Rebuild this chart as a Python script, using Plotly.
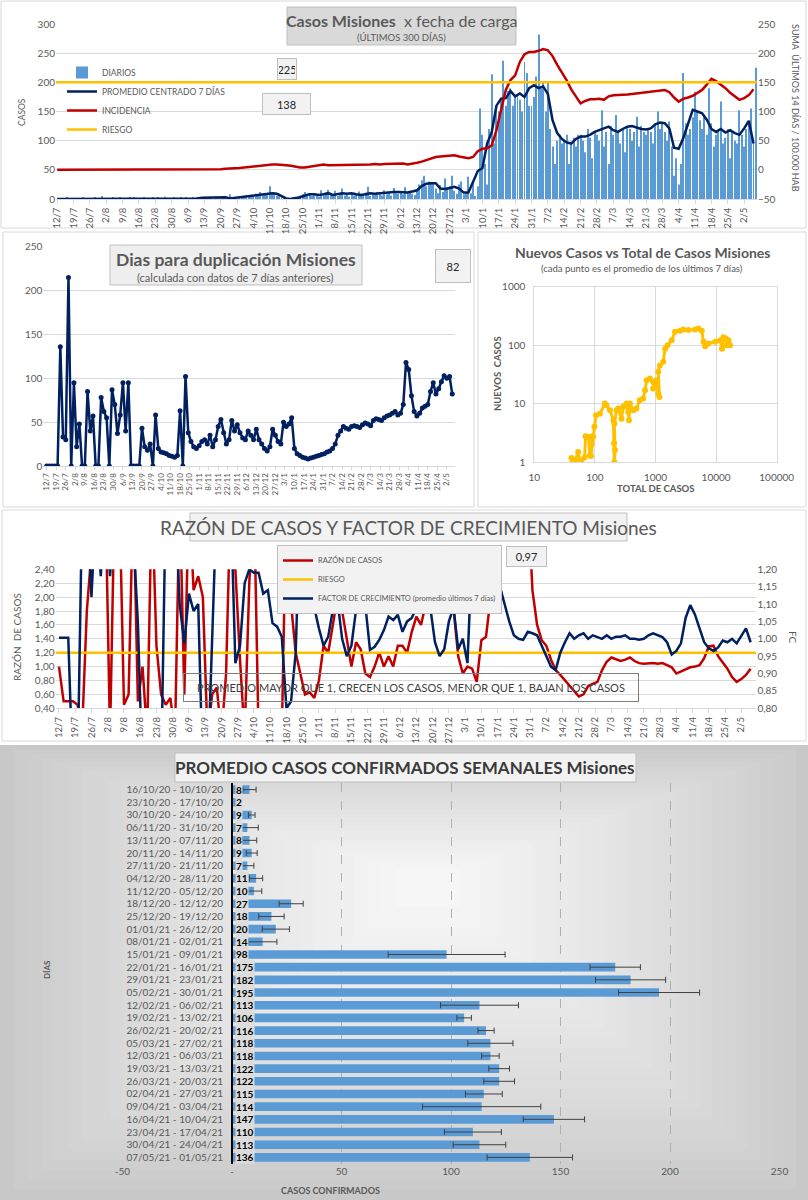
import pandas as pd
import plotly.graph_objects as go

W, H = 808, 1200
def X(px): return px / W
def Y(py): return 1 - py / H

FONT = "Lato"
GRAY = "#595959"
NAVY = "#002060"
RED = "#c00000"
ORANGE = "#ffc000"
BLUE = "#5b9bd5"
GRID = "#d9d9d9"

# ---------------- DATA ----------------
start_date = "2020-07-12"
n_days = 300

daily_cases = [
    0, 1, 0, 0, 2, 0, 1,
    0, 0, 1, 0, 3, 1, 0,
    1, 0, 2, 1, 0, 5, 1,
    0, 1, 0, 2, 1, 0, 3,
    1, 0, 0, 4, 1, 2, 0,
    1, 0, 2, 1, 0, 1, 3,
    0, 2, 1, 0, 4, 1, 0,
    1, 2, 0, 1, 3, 0, 2,
    0, 1, 3, 0, 2, 1, 0,
    1, 0, 2, 1, 0, 2, 1,
    2, 4, 1, 3, 8, 2, 3,
    0, 2, 5, 3, 6, 2, 4,
    6, 9, 5, 12, 8, 7, 10,
    22, 8, 11, 6, 9, 5, 3,
    0, 1, 0, 2, 4, 1, 6,
    8, 12, 6, 10, 5, 9, 7,
    4, 15, 6, 9, 16, 7, 8,
    14, 5, 9, 18, 6, 7, 4,
    10, 6, 8, 13, 9, 7, 11,
    21, 5, 9, 7, 12, 8, 6,
    15, 8, 11, 6, 19, 10, 9,
    12, 8, 20, 11, 14, 9, 7,
    15, 25, 32, 40, 22, 30, 28,
    27, 18, 10, 24, 12, 35, 20,
    22, 40, 14, 9, 25, 30, 8,
    12, 38, 10, 28, 5, 22, 155,
    110, 60, 25, 120, 214, 95, 150,
    150, 170, 237, 160, 185, 190, 160,
    175, 180, 170, 150, 235, 216, 160,
    160, 175, 210, 282, 190, 200, 150,
    202, 120, 90, 60, 100, 110, 95,
    100, 110, 60, 95, 105, 90, 110,
    110, 100, 80, 120, 105, 70, 115,
    110, 100, 152, 90, 115, 60, 125,
    110, 144, 115, 95, 120, 80, 125,
    120, 100, 115, 141, 90, 125, 115,
    110, 120, 115, 95, 130, 150, 120,
    130, 115, 100, 133, 90, 40, 70,
    25, 60, 216, 130, 110, 120, 140,
    184, 150, 135, 120, 140, 110, 190,
    130, 90, 110, 115, 167, 95, 105,
    120, 70, 115, 100, 95, 152, 110,
    90, 120, 130, 155, 100, 225,
]

# values every 2 days from 12/7
avg7 = [
    0, 0, 0, 0, 0, 0, 0, 0, 0, 0, 0,
    1, 1, 1, 1, 1, 1, 1, 1, 1, 1, 1, 1, 1, 1, 1, 1, 1, 1, 1, 1, 2, 2, 2, 2,
    3, 3, 1, 2, 3, 4, 5, 7, 8, 9, 9, 10, 9, 5, 1,
    0, 1, 3, 6, 8, 8, 7, 8, 10, 7, 8, 10, 9, 10, 8, 7, 8, 10, 9, 10, 10, 11, 12, 12, 11,
    11, 13, 15, 22, 26, 27, 27, 18, 17, 19, 21, 18, 11, 11, 30, 48, 53, 95, 115, 160, 172, 173, 185, 176, 181,
    175, 190, 195, 190, 193, 180, 135, 113, 103, 97, 95, 103, 107, 107, 110, 115, 118, 121, 124, 118, 115, 120, 124, 125, 122,
    120, 119, 121, 128, 131, 130, 121, 88, 86, 105, 130, 153, 150, 147, 136, 120, 115, 120, 114, 118, 113, 110, 121, 134, 95,
]

incidence = [
    0, 0, 0, 0, 0, 0, 0, 0, 0, 0, 1, 1, 0, 0, 0, 0, 0, 0, 0, 0, 0, 0, 0, 0, 0, 0, 0, 0, 0, 0, 0, 0, 0, 0,
    1, 1, 2, 2, 3, 3, 4, 5, 6, 7, 8, 8, 9, 9, 9, 8,
    7, 5, 4, 4, 5, 6, 8, 9, 8, 8, 9, 9, 8, 9, 9, 8, 9, 9, 10, 9, 10, 10, 10, 11, 11,
    9, 10, 12, 14, 17, 20, 22, 23, 24, 25, 25, 23, 21, 20, 22, 32, 36, 37, 42, 68, 103, 137, 154, 162, 185,
    198, 202, 202, 204, 207, 205, 195, 180, 168, 154, 138, 125, 114, 118, 121, 121, 122, 120, 126, 128, 128, 128, 129, 130, 131,
    131, 132, 133, 134, 136, 137, 133, 124, 117, 122, 124, 127, 132, 137, 146, 156, 152, 146, 140, 132, 126, 120, 123, 128, 138,
]
riesgo_incidencia = 150

doubling_days = [
    0, 0, 0, 0, 0, 136, 33, 30, 215, 0, 95, 22, 48, 0, 0, 85, 40, 57, 0, 0, 78, 62, 55, 0, 87,
    70, 37, 58, 95, 40, 95, 0, 0, 0, 0, 43, 22, 18, 25, 0, 58, 20, 16, 15, 14, 12, 11, 10, 12, 63,
    0, 102, 38, 28, 22, 20, 23, 28, 30, 25, 35, 22, 30, 45, 53, 38, 25, 30, 52, 40, 47, 38, 32, 30, 40,
    35, 30, 42, 30, 25, 20, 17, 22, 42, 35, 28, 25, 50, 45, 48, 55, 20, 14, 12, 10, 9, 8, 9, 10, 11,
    12, 13, 14, 16, 17, 20, 25, 35, 40, 45, 43, 42, 45, 46, 45, 44, 47, 49, 48, 46, 52, 54, 53, 52, 55,
    57, 58, 60, 62, 58, 60, 70, 118, 110, 80, 62, 57, 60, 66, 68, 70, 85, 95, 82, 88, 96, 103, 100, 102, 82,
]

total_cases = [41, 43, 47, 53, 57, 60, 68, 70, 78, 83, 88, 90, 86, 94, 98, 104, 121, 146, 154, 177,
               202, 207, 209, 215, 209, 228, 243, 275, 294, 333, 354, 365, 379, 430, 485, 550, 626, 672, 715, 810,
               915, 975, 915, 1040, 1110, 1160, 1110, 1180, 1340, 1440, 1580, 1850, 2100, 2550, 2880, 3500, 4500, 5100, 5800, 6200,
               6600, 7500, 9700, 11700, 12500, 13200, 14200, 15000, 16000, 17000]
new_cases = [1.17, 1, 1.07, 1.48, 1.07, 1, 1.2, 2.75, 2.7, 1.3, 2.06, 2.75, 1.27, 2.7, 4, 6.3, 6.7, 10, 9.4, 7.7,
             5.2, 2.1, 1, 1.6, 4.5, 7.7, 8.2, 5.5, 8.8, 10, 7.2, 5.2, 10, 7.7, 8.2, 11.4, 12.2, 16.9, 25, 26.8,
             23.4, 20.7, 18.1, 25, 14.8, 13, 34.9, 45, 52, 87, 100, 121, 169, 176, 185, 181, 185, 193, 176, 114,
             96, 107, 114, 121, 87, 137, 131, 100, 121, 100]

razon_casos = [
    1.0, 0.5, 0.5, 0.5, 0.45, 0.1, 1.8, 3.5, 3.5, 3.5, 3.5, 0.0, 3.5, 3.5, 0.45, 0.6, 3.5, 0.5, 1.0, 0.0, 3.5, 1.3, 0.6, 0.45, 0.55,
    0.0, 3.5, 0.6, 3.5, 2.1, 2.3, 2.0, 0.0, 0.6, 0.7, 0.0, 0.9, 3.5, 2.4, 1.1, 0.0, 2.2, 3.5, 0.0, 0.0, 0.0, 0.0, 0.0, 0.0, 3.5,
    1.9, 1.2, 0.9, 0.6, 0.63, 0.55, 0.8, 1.3, 1.2, 1.6, 2.0, 1.8, 1.4, 1.0, 1.35, 1.25, 0.9, 0.85, 1.0, 1.2, 1.0, 1.15, 1.0, 1.3, 1.3,
    1.2, 1.5, 1.72, 1.6, 1.9, 2.2, 3.0, 3.0, 2.6, 1.9, 1.85, 1.15, 0.9, 1.0, 0.97, 0.78, 1.38, 1.43, 2.0, 3.5, 3.5, 3.5, 3.5, 3.5, 3.5,
    3.5, 3.5, 2.1, 1.6, 1.38, 1.3, 1.1, 0.95, 0.88, 0.8, 0.72, 0.64, 0.57, 0.6, 0.72, 0.75, 0.78, 0.95, 1.07, 1.13, 1.1, 1.08, 1.1, 1.13, 1.08,
    1.05, 1.04, 1.05, 1.05, 1.04, 1.05, 1.02, 0.99, 0.9, 0.93, 0.97, 0.99, 1.0, 1.02, 1.12, 1.29, 1.3, 1.15, 1.06, 0.97, 0.85, 0.78, 0.82, 0.88, 0.97,
]
riesgo_razon = 1.2

factor_crecimiento = [
    1.003, 1.003, 1.003, 0.6, 0.6, 1.4, 1.4, 1.12, 1.4, 1.18, 1.4, 1.18, 1.4, 1.4, 1.4, 1.4, 1.3, 1.045, 0.6, 0.6, 0.6, 0.6, 0.6, 1.4, 1.4,
    1.4, 1.1, 0.987, 1.13, 1.08, 1.1, 0.6, 0.6, 1.0, 1.4, 1.4, 1.4, 1.4, 0.93, 0.98, 1.16, 1.2, 1.19, 1.19, 1.13, 1.14, 1.045, 1.035, 1.006, 0.80,
    0.82, 0.96, 1.4, 1.4, 1.4, 1.09, 1.03, 0.98, 1.006, 1.083, 1.11, 1.0, 0.95, 0.98, 1.083, 1.09, 1.097, 0.968, 0.977, 0.997, 1.025, 1.064, 1.054, 1.069, 1.02,
    1.05, 1.06, 1.09, 1.15, 1.12, 1.09, 0.99, 0.95, 0.97, 1.05, 1.09, 0.97, 1.0, 0.93, 1.25, 1.4, 1.4, 1.3, 1.16, 1.18, 1.15, 1.1, 1.05, 1.01, 1.0,
    0.997, 1.02, 1.016, 1.01, 0.98, 0.95, 0.92, 0.91, 0.96, 0.99, 1.016, 1.0, 1.01, 1.016, 1.0, 1.01, 1.006, 1.0, 1.01, 1.0, 1.006, 1.006, 1.01, 1.0, 1.0,
    0.997, 1.0, 1.01, 1.016, 1.01, 1.005, 0.99, 0.955, 0.965, 0.987, 1.06, 1.097, 1.07, 1.03, 0.99, 0.973, 0.965, 0.975, 0.995, 0.99, 1.0, 0.987, 1.01, 1.03, 0.99,
]

semanas = ["16/10/20 - 10/10/20", "23/10/20 - 17/10/20", "30/10/20 - 24/10/20", "06/11/20 - 31/10/20",
           "13/11/20 - 07/11/20", "20/11/20 - 14/11/20", "27/11/20 - 21/11/20", "04/12/20 - 28/11/20",
           "11/12/20 - 05/12/20", "18/12/20 - 12/12/20", "25/12/20 - 19/12/20", "01/01/21 - 26/12/20",
           "08/01/21 - 02/01/21", "15/01/21 - 09/01/21", "22/01/21 - 16/01/21", "29/01/21 - 23/01/21",
           "05/02/21 - 30/01/21", "12/02/21 - 06/02/21", "19/02/21 - 13/02/21", "26/02/21 - 20/02/21",
           "05/03/21 - 27/02/21", "12/03/21 - 06/03/21", "19/03/21 - 13/03/21", "26/03/21 - 20/03/21",
           "02/04/21 - 27/03/21", "09/04/21 - 03/04/21", "16/04/21 - 10/04/21", "23/04/21 - 17/04/21",
           "30/04/21 - 24/04/21", "07/05/21 - 01/05/21"]
promedio_semanal = [8, 2, 9, 7, 8, 9, 7, 11, 10, 27, 18, 20, 14, 98, 175, 182, 195, 113, 106, 116,
                    118, 118, 122, 122, 115, 114, 147, 110, 113, 136]
error_semanal = [3, 0, 1.5, 5, 3.3, 2.5, 3, 3, 3.6, 5.5, 5.8, 6.2, 6.5, 26.7, 11.5, 16, 18.5, 17.8, 3.3, 3.7,
                 10.3, 4, 4.7, 7, 8.4, 27, 14, 13, 12, 19.5]

# ---------------- DERIVED AXIS HELPERS ----------------
dates = pd.date_range(start_date, periods=n_days, freq="D")
day = pd.Timedelta(days=1)
DAY_MS = 86400000
week_ticks = list(dates[::7])
week_labels = [f"{d.day}/{d.month}" for d in week_ticks]
d2 = dates[::2]

def comma(v):
    return f"{v:.2f}".replace(".", ",")

fig = go.Figure()

# ---------------- PANEL 1 ----------------
x1_range = [dates[0] - 0.5 * day, dates[-1] + 0.5 * day]
fig.add_trace(go.Bar(x=dates, y=daily_cases, name="DIARIOS", marker=dict(color=BLUE, line_width=0),
                     width=0.42 * DAY_MS, xaxis="x", yaxis="y", legend="legend"))
fig.add_trace(go.Scatter(x=d2[:len(avg7)], y=avg7, name="PROMEDIO CENTRADO 7 DÍAS", mode="lines",
                         line=dict(color=NAVY, width=2.5), xaxis="x", yaxis="y", legend="legend"))
fig.add_trace(go.Scatter(x=d2[:len(incidence)], y=incidence, name="INCIDENCIA", mode="lines",
                         line=dict(color=RED, width=2.5), xaxis="x", yaxis="y2", legend="legend"))
fig.add_trace(go.Scatter(x=x1_range, y=[riesgo_incidencia] * 2, name="RIESGO", mode="lines",
                         line=dict(color=ORANGE, width=2.5), xaxis="x", yaxis="y2", legend="legend"))

# ---------------- PANEL 2 ----------------
fig.add_trace(go.Scatter(x=d2[:len(doubling_days)], y=doubling_days, mode="lines+markers",
                         line=dict(color=NAVY, width=2.5), marker=dict(color=NAVY, size=5),
                         showlegend=False, xaxis="x2", yaxis="y3"))

# ---------------- PANEL 3 ----------------
fig.add_trace(go.Scatter(x=total_cases, y=new_cases, mode="lines+markers",
                         line=dict(color=ORANGE, width=3), marker=dict(color=ORANGE, size=6),
                         showlegend=False, xaxis="x3", yaxis="y4"))

# ---------------- PANEL 4 ----------------
x4_range = [dates[0] - 1.5 * day, dates[0] + 300.5 * day]
fig.add_trace(go.Scatter(x=d2[:len(razon_casos)], y=razon_casos, name="RAZÓN DE CASOS", mode="lines",
                         line=dict(color=RED, width=2.5), xaxis="x4", yaxis="y5", legend="legend2"))
fig.add_trace(go.Scatter(x=x4_range, y=[riesgo_razon] * 2, name="RIESGO", mode="lines",
                         line=dict(color=ORANGE, width=2.5), xaxis="x4", yaxis="y5", legend="legend2"))
fig.add_trace(go.Scatter(x=d2[:len(factor_crecimiento)], y=factor_crecimiento,
                         name="FACTOR DE CRECIMIENTO (promedio últimos 7 días)", mode="lines",
                         line=dict(color=NAVY, width=2.5), xaxis="x4", yaxis="y6", legend="legend2"))

# ---------------- PANEL 5 ----------------
fig.add_trace(go.Bar(x=promedio_semanal, y=semanas, orientation="h", width=0.68,
                     marker=dict(color=BLUE, line_width=0),
                     error_x=dict(type="data", array=error_semanal, color="#404040", thickness=1, width=3),
                     showlegend=False, xaxis="x5", yaxis="y7"))

tickfont = dict(family=FONT, size=10, color=GRAY)

layout = dict(
    width=W, height=H, autosize=False,
    margin=dict(l=0, r=0, t=0, b=0, autoexpand=False),
    paper_bgcolor="white", plot_bgcolor="rgba(0,0,0,0)",
    font=dict(family=FONT, color=GRAY),
    # panel 1
    xaxis=dict(domain=[X(56), X(757)], anchor="y", type="date", range=x1_range,
               tickvals=week_ticks, ticktext=week_labels, tickangle=-90,
               tickfont=dict(family=FONT, size=9.5, color=GRAY), showgrid=False,
               showline=True, linecolor=GRID, ticks="outside", ticklen=4, tickcolor=GRID),
    yaxis=dict(domain=[Y(199), Y(24)], anchor="x", range=[0, 300], dtick=50, gridcolor=GRID,
               zeroline=False, tickfont=tickfont),
    yaxis2=dict(overlaying="y", anchor="x", side="right", range=[-50, 250], dtick=50,
                showgrid=False, zeroline=False, tickfont=tickfont),
    # panel 2
    xaxis2=dict(domain=[X(43.3), X(455)], anchor="y3", type="date",
                range=[dates[0] - 2.5 * day, dates[0] + 300 * day],
                tickvals=week_ticks, ticktext=week_labels, tickangle=-90,
                tickfont=dict(family=FONT, size=8, color=GRAY), showgrid=False,
                showline=True, linecolor=GRID, ticks="outside", ticklen=3, tickcolor=GRID),
    yaxis3=dict(domain=[Y(466), Y(246.7)], anchor="x2", range=[0, 250], dtick=50, gridcolor=GRID,
                zeroline=False, tickfont=tickfont),
    # panel 3
    xaxis3=dict(domain=[X(534.3), X(776.7)], anchor="y4", type="log", range=[1, 5],
                tickvals=[10, 100, 1000, 10000, 100000],
                ticktext=["10", "100", "1000", "10000", "100000"],
                gridcolor=GRID, showline=True, mirror=True, linecolor=GRID, tickfont=tickfont,
                ticklabelstandoff=6),
    yaxis4=dict(domain=[Y(462), Y(286.7)], anchor="x3", type="log", range=[0, 3],
                tickvals=[1, 10, 100, 1000], ticktext=["1", "10", "100", "1000"],
                gridcolor=GRID, showline=True, mirror=True, linecolor=GRID, tickfont=tickfont,
                ticklabelstandoff=6),
    # panel 4
    xaxis4=dict(domain=[X(55.5), X(756.4)], anchor="y5", type="date", range=x4_range,
                tickvals=week_ticks, ticktext=week_labels, tickangle=-90,
                tickfont=dict(family=FONT, size=9.5, color=GRAY), showgrid=False,
                showline=True, linecolor=GRID, ticks="outside", ticklen=4, tickcolor=GRID),
    yaxis5=dict(domain=[Y(708.3), Y(569.3)], anchor="x4", range=[0.4, 2.4],
                tickvals=[round(0.4 + 0.2 * i, 2) for i in range(11)],
                ticktext=[comma(0.4 + 0.2 * i) for i in range(11)],
                gridcolor=GRID, zeroline=False, tickfont=tickfont),
    yaxis6=dict(overlaying="y5", anchor="x4", side="right", range=[0.8, 1.2],
                tickvals=[round(0.8 + 0.05 * i, 2) for i in range(9)],
                ticktext=[comma(0.8 + 0.05 * i) for i in range(9)],
                showgrid=False, zeroline=False, tickfont=tickfont),
    # panel 5
    xaxis5=dict(domain=[X(122.5), X(779.5)], anchor="y7", range=[-50, 250],
                tickvals=[-50, 0, 50, 100, 150, 200, 250],
                ticktext=["-50", "-", "50", "100", "150", "200", "250"],
                gridcolor="#b0b0b0", griddash="dash", zeroline=False, tickfont=tickfont),
    yaxis7=dict(domain=[Y(1164.4), Y(782.6)], anchor="free", position=X(232), type="category",
                autorange="reversed", showline=True, linecolor="#000000", linewidth=2,
                showgrid=False, tickfont=tickfont, ticklabelstandoff=6),
    legend=dict(x=X(62), y=Y(58), xanchor="left", yanchor="top", bgcolor="rgba(0,0,0,0)",
                font=dict(family=FONT, size=8.5, color=GRAY), tracegroupgap=0, itemwidth=30),
    legend2=dict(x=X(277), y=Y(545), xanchor="left", yanchor="top", bgcolor="#f2f2f2",
                 bordercolor="#bfbfbf", borderwidth=1,
                 font=dict(family=FONT, size=7.5, color=GRAY), tracegroupgap=0, itemwidth=30),
    showlegend=True,
)
fig.update_layout(**layout)

# ---------------- SHAPES ----------------
shapes = []
# panel 5 gradient background
x0, x1, y0, y1 = 0, 808, 745, 1200
cx, cy = 430, 880
steps = 30
for i in range(steps):
    t = i / steps * 0.95
    c = int(0xc8 + (0xf6 - 0xc8) * (i / (steps - 1)) ** 0.8)
    col = f"#{c:02x}{c:02x}{c:02x}"
    shapes.append(dict(type="rect", xref="paper", yref="paper", layer="below",
                       x0=X(x0 + (cx - x0) * t), x1=X(x1 - (x1 - cx) * t),
                       y0=Y(y0 + (cy - y0) * t), y1=Y(y1 - (y1 - cy) * t),
                       fillcolor=col, line_width=0))
# panel borders
for (a, b, c2, d) in [(1, 1, 806, 228), (3, 232, 474, 507), (478, 232, 806, 507), (2, 510, 806, 741)]:
    shapes.append(dict(type="rect", xref="paper", yref="paper", layer="below",
                       x0=X(a), x1=X(c2), y0=Y(b), y1=Y(d), line=dict(color=GRID, width=1)))
# title boxes
for (a, b, c2, d, fill) in [(287, 7, 516, 45, "#d9d9d9"), (110, 245, 362, 285, "#eeeeee"),
                            (190, 513, 627, 541, "#f2f2f2"), (175, 753, 636, 782, "#f2f2f2")]:
    shapes.append(dict(type="rect", xref="paper", yref="paper", layer="above",
                       x0=X(a), x1=X(c2), y0=Y(b), y1=Y(d), fillcolor=fill,
                       line=dict(color="#bfbfbf", width=1)))
fig.update_layout(shapes=shapes)

# ---------------- ANNOTATIONS ----------------
ann = []
def txt(x, y, text, size, color=GRAY, bold=False, angle=0):
    t = f"<b>{text}</b>" if bold else text
    ann.append(dict(x=X(x), y=Y(y), xref="paper", yref="paper", text=t, showarrow=False,
                    xanchor="center", yanchor="middle", textangle=angle,
                    font=dict(family=FONT, size=size, color=color)))

def box(x, y, text, w, h, size=11):
    ann.append(dict(x=X(x), y=Y(y), xref="paper", yref="paper", text=text, showarrow=False,
                    xanchor="center", yanchor="middle",
                    width=w, height=h, bgcolor="#f2f2f2", bordercolor="#bfbfbf", borderwidth=1,
                    font=dict(family=FONT, size=size, color="#262626")))

# panel 1
txt(401.5, 21, "<b>Casos Misiones</b>  x fecha de carga", 16)
txt(401.5, 37.5, "(ÚLTIMOS 300 DÍAS)", 9.5)
box(287, 69, str(daily_cases[-1]), 16, 18)
box(286.5, 104, str(incidence[-1]), 45, 18)
txt(22, 112, "CASOS", 8.5, angle=-90)
txt(795, 108, "SUMA  ÚLTIMOS 14 DÍAS / 100.000 HAB", 9, angle=90)
# panel 2
txt(236, 259, "Dias para duplicación Misiones", 17.5, bold=True)
txt(236, 277, "(calculada con datos de 7 días anteriores)", 11)
box(453, 266, str(doubling_days[-1]), 32, 30)
# panel 3
txt(642, 253, "Nuevos Casos vs Total de Casos Misiones", 14, bold=True)
txt(642, 268, "(cada punto es el promedio de los últimos 7 días)", 9.5)
txt(497, 374, "NUEVOS  CASOS", 9.5, bold=True, angle=-90)
txt(655, 489, "TOTAL DE CASOS", 9.5, bold=True)
# panel 4
txt(408.5, 527, "RAZÓN DE CASOS Y FACTOR DE CRECIMIENTO Misiones", 19)
box(526.5, 556.5, comma(razon_casos[-1]), 37, 17)
ann.append(dict(x=X(411), y=Y(687.5), xref="paper", yref="paper", showarrow=False,
                xanchor="center", yanchor="middle",
                text="PROMEDIO MAYOR QUE 1, CRECEN LOS CASOS, MENOR QUE 1, BAJAN LOS CASOS",
                width=452, height=25, bordercolor="#7f7f7f", borderwidth=1,
                font=dict(family=FONT, size=11, color="#404040")))
txt(17, 637, "RAZÓN  DE CASOS", 10, angle=-90)
txt(793, 637, "FC", 10, angle=90)
# panel 5
txt(405.5, 767.5, "PROMEDIO CASOS CONFIRMADOS SEMANALES Misiones", 17, color="#3a3a3a", bold=True)
txt(47, 970, "DÍAS", 8, bold=True, angle=-90)
txt(330, 1190, "CASOS CONFIRMADOS", 9, bold=True)
for lab, v in zip(semanas, promedio_semanal):
    ann.append(dict(x=0, y=lab, xref="x5", yref="y7", text=f"<b>{v}</b>", showarrow=False,
                    xanchor="left", yanchor="middle", xshift=3, bgcolor="#dcdcdc", borderpad=0,
                    font=dict(family=FONT, size=10, color="#000000")))
fig.update_layout(annotations=ann)

fig.write_html("out.html", config={"displayModeBar": False},
               post_script="document.body.style.margin='0';document.body.style.overflow='hidden';")
